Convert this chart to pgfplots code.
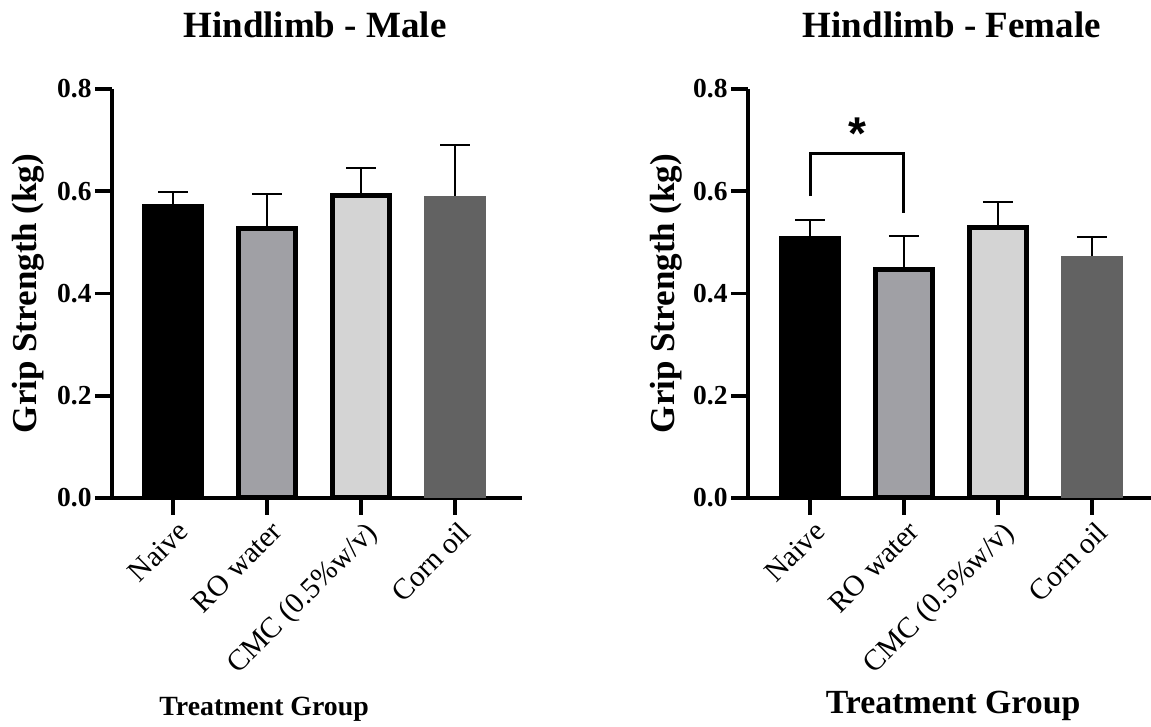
\documentclass[border=0pt]{standalone}
\usepackage{fontspec}
\setmainfont{Liberation Serif}
\newfontfamily\astfont{Liberation Sans}
\usepackage{pgfplots}
\pgfplotsset{compat=1.18}
\definecolor{rogray}{HTML}{A0A0A5}
\definecolor{cmcgray}{HTML}{D4D4D4}
\definecolor{corngray}{HTML}{626262}
\pgfplotsset{
  gsbase/.style={
    scale only axis, height=204.5pt, ymin=0, ymax=0.8,
    axis x line*=bottom, axis y line*=left,
    axis line style={line width=1.8pt, black},
    tick style={line width=1.8pt, black},
    tick align=outside, major tick length=8.5pt,
    xtick={0,1,2,3}, xticklabels={Naive, RO water, CMC (0.5\%w/v), Corn oil},
    xticklabel style={rotate=45, anchor=north east, font=\fontsize{14.75}{15}\selectfont, inner sep=0.5pt, yshift=-2pt},
    ytick={0,0.2,0.4,0.6,0.8}, yticklabels={0.0,0.2,0.4,0.6,0.8},
    yticklabel style={font=\fontsize{13.75}{14}\selectfont\bfseries, inner sep=1.5pt},
    ylabel={Grip Strength (kg)},
    ylabel style={font=\fontsize{17.5}{18}\selectfont\bfseries, anchor=center},
    title style={font=\fontsize{18.5}{19}\selectfont\bfseries, anchor=base, yshift=-6pt},
    xlabel={Treatment Group},
    clip=false,
  },
  errb/.style={error bars/y dir=plus, error bars/y explicit,
    error bars/error bar style={line width=1pt, black, solid},
    error bars/error mark options={rotate=90, mark size=7.5pt, line width=1pt, black}},
  naivebar/.style={ybar, bar shift=0pt, bar width=31pt, fill=black, draw=none},
  robar/.style={ybar, bar shift=0pt, bar width=28.5pt, fill=rogray, draw=black, line width=2.5pt, line join=miter},
  cmcbar/.style={ybar, bar shift=0pt, bar width=28.5pt, fill=cmcgray, draw=black, line width=2.5pt, line join=miter},
  cornbar/.style={ybar, bar shift=0pt, bar width=31pt, fill=corngray, draw=none},
}
\begin{document}
\begin{tikzpicture}
\path[use as bounding box] (0,0) rectangle (575.5pt,363.5pt);
% Male
\begin{axis}[gsbase, at={(56pt,114.5pt)}, anchor=south west, width=205pt,
  xmin=-0.65, xmax=3.71,
  title={Hindlimb - Male},
  title style={at={(axis description cs:0.495,1.127)}},
  ylabel style={at={(axis description cs:-0.205,0.5)}},
  xlabel style={at={(axis description cs:0.371,-0.533)}, anchor=base, font=\fontsize{13.9}{14}\selectfont\bfseries},
]
\addplot[naivebar, errb] coordinates {(0,0.575) +- (0,0.023)};
\addplot[robar, errb] coordinates {(1,0.528) +- (0,0.066)};
\addplot[cmcbar, errb] coordinates {(2,0.591) +- (0,0.054)};
\addplot[cornbar, errb] coordinates {(3,0.591) +- (0,0.100)};
\end{axis}
% Female
\begin{axis}[gsbase, at={(374pt,114.5pt)}, anchor=south west, width=201.5pt,
  xmin=-0.66, xmax=3.63,
  title={Hindlimb - Female},
  title style={at={(axis description cs:0.506,1.127)}},
  ylabel style={at={(axis description cs:-0.2035,0.5)}},
  xlabel style={at={(axis description cs:0.509,-0.526)}, anchor=base, font=\fontsize{16.9}{17}\selectfont\bfseries},
]
\addplot[naivebar, errb] coordinates {(0,0.512) +- (0,0.031)};
\addplot[robar, errb] coordinates {(1,0.447) +- (0,0.066)};
\addplot[cmcbar, errb] coordinates {(2,0.5285) +- (0,0.050)};
\addplot[cornbar, errb] coordinates {(3,0.474) +- (0,0.036)};
\addplot[sharp plot, no marks, line width=1.5pt, black, line join=miter] coordinates {(0,0.5907) (0,0.6744) (1,0.6744) (1,0.558)};
\node[font=\astfont\bfseries\fontsize{23}{23}\selectfont, anchor=base] at (axis cs:0.5,0.681) {*};
\end{axis}
\end{tikzpicture}
\end{document}
